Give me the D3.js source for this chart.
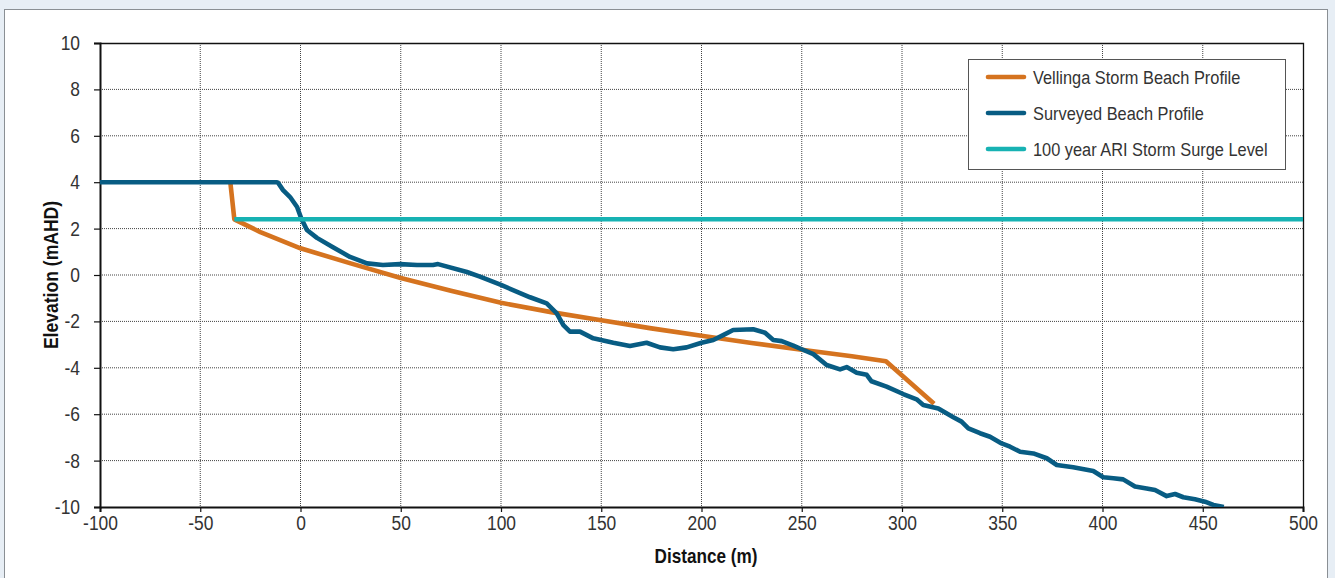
<!DOCTYPE html>
<html>
<head>
<meta charset="utf-8">
<script src="https://cdn.jsdelivr.net/npm/d3@7"></script>
<style>
  body { margin: 0; background: #e7eef5; }
  svg { display: block; }
  text { font-family: "Liberation Sans", Arial, sans-serif; }
  .tick text { font-size: 20px; fill: #333; }
  .lbl { font-weight: bold; font-size: 19.5px; fill: #111; }
  .leg { font-size: 18.5px; fill: #333; }
</style>
</head>
<body>
<svg id="chart" width="1335" height="578"></svg>
<script>
// axis ticks
var xTicks = [-100, -50, 0, 50, 100, 150, 200, 250, 300, 350, 400, 450, 500];
var yTicks = [-10, -8, -6, -4, -2, 0, 2, 4, 6, 8, 10];

// Vellinga storm beach profile [distance, elevation]
var vellinga = [
    [-35, 4.0], [-33, 2.4], [-20, 1.85], [0, 1.15], [25, 0.5], [50, -0.13],
    [75, -0.68], [100, -1.2], [125, -1.6], [150, -1.95], [175, -2.3],
    [200, -2.62], [225, -2.93], [250, -3.22], [275, -3.5], [292, -3.72],
    [316, -5.55]
];

// surveyed beach profile [distance, elevation]
var surveyed = [
    [-100, 4.0], [-12, 4.0], [-11.2, 3.98], [-8.7, 3.66], [-5.2, 3.36], [-1.7, 2.93],
    [0.3, 2.46], [3.2, 1.94], [8.2, 1.6], [16.2, 1.2], [24.7, 0.78], [33.2, 0.5],
    [41.1, 0.43], [49.6, 0.47], [58.1, 0.43], [66.1, 0.43], [68.6, 0.47],
    [83.0, 0.13], [89.5, -0.07], [100, -0.43], [114.5, -0.96], [122.8, -1.22],
    [127.8, -1.65], [131.1, -2.16], [134.4, -2.44], [139.4, -2.44], [146, -2.73],
    [156, -2.92], [164.3, -3.06], [172.6, -2.92], [179.3, -3.12], [185.9, -3.2],
    [192.6, -3.12], [200, -2.92], [205.9, -2.8], [210.8, -2.59], [215.8, -2.37],
    [225.8, -2.34], [231.7, -2.49], [235.8, -2.8], [240, -2.85], [245.8, -3.04],
    [250, -3.2], [255.8, -3.41], [262.4, -3.88], [269.1, -4.07], [272.4, -3.97],
    [277.4, -4.21], [282.4, -4.3], [284.8, -4.58], [292.3, -4.81], [300.6, -5.13],
    [307.3, -5.36], [310.6, -5.6], [318.1, -5.75], [325.6, -6.13], [329.7, -6.32],
    [333.1, -6.61], [338.9, -6.82], [343.9, -6.97], [349.7, -7.26], [353.9, -7.4],
    [358.9, -7.62], [365.5, -7.69], [372.2, -7.9], [377.2, -8.19], [385.4, -8.29],
    [395.4, -8.45], [400.4, -8.72], [405.4, -8.76], [410.3, -8.81], [416.2, -9.12],
    [422, -9.2], [426.2, -9.27], [432, -9.53], [436.2, -9.44], [440.3, -9.58],
    [446.1, -9.67], [451.1, -9.77], [455.3, -9.91], [460.5, -10.0]
];

// 100 year ARI storm surge level
var surge = [[-33, 2.4], [500, 2.4]];

var seriesNames = ["Vellinga Storm Beach Profile", "Surveyed Beach Profile", "100 year ARI Storm Surge Level"];
var seriesColors = ["#d5731f", "#085c83", "#17b2b3"];

var svg = d3.select("#chart");

// squeeze text horizontally to get a condensed look
function narrow(sel, k) {
    sel.each(function () {
        var t = d3.select(this);
        var tx = +t.attr("x") || 0;
        var prev = t.attr("transform") || "";
        t.attr("x", 0).attr("transform", prev + " translate(" + tx + ",0) scale(" + k + ",1)");
    });
}

// white panel
svg.append("rect")
    .attr("x", 4.5).attr("y", 9.5)
    .attr("width", 1323).attr("height", 600)
    .attr("fill", "#fff")
    .attr("stroke", "#8a8f94")
    .attr("stroke-width", 1);

var pLeft = 100, pRight = 1303, pTop = 43, pBottom = 507;

var x = d3.scaleLinear().domain([-100, 500]).range([pLeft, pRight]);
var y = d3.scaleLinear().domain([-10, 10]).range([pBottom, pTop]);

// grid
var grid = svg.append("g");
grid.selectAll("line.gx")
    .data(xTicks.slice(1, -1))
  .enter().append("line")
    .attr("x1", function (d) { return x(d); }).attr("x2", function (d) { return x(d); })
    .attr("y1", pTop).attr("y2", pBottom)
    .attr("stroke", "#444").attr("stroke-width", 1).attr("stroke-dasharray", "1,1");
grid.selectAll("line.gy")
    .data(yTicks.slice(1, -1))
  .enter().append("line")
    .attr("y1", function (d) { return y(d); }).attr("y2", function (d) { return y(d); })
    .attr("x1", pLeft).attr("x2", pRight)
    .attr("stroke", "#444").attr("stroke-width", 1).attr("stroke-dasharray", "1,1");

// top + right frame
svg.append("path")
    .attr("d", "M" + pLeft + "," + (pTop + 0.5) + "H" + (pRight + 0.5) + "V" + pBottom)
    .attr("fill", "none").attr("stroke", "#111").attr("stroke-width", 1.3);

// axes
var fmt = function (d) { return String(d); };
var xAxis = svg.append("g")
    .attr("transform", "translate(0," + pBottom + ")")
    .call(d3.axisBottom(x).tickValues(xTicks).tickFormat(fmt).tickSize(5).tickPadding(4));
var yAxis = svg.append("g")
    .attr("transform", "translate(" + pLeft + ",0)")
    .call(d3.axisLeft(y).tickValues(yTicks).tickFormat(fmt).tickSize(6).tickPadding(14));
[xAxis, yAxis].forEach(function (a) {
    a.attr("font-family", null).attr("font-size", null);
    a.select(".domain").attr("stroke", "#111").attr("stroke-width", 2);
    a.selectAll(".tick line").attr("stroke", "#111").attr("stroke-width", 1.2);
    narrow(a.selectAll(".tick text"), 0.87);
});

// lines
var line = d3.line()
    .x(function (d) { return x(d[0]); })
    .y(function (d) { return y(d[1]); });

svg.append("defs").append("clipPath").attr("id", "clip")
  .append("rect").attr("x", pLeft).attr("y", pTop - 3).attr("width", pRight - pLeft + 3).attr("height", pBottom - pTop + 3);

var plot = svg.append("g").attr("clip-path", "url(#clip)");
[vellinga, surveyed, surge].forEach(function (s, i) {
    plot.append("path")
        .datum(s)
        .attr("d", line)
        .attr("fill", "none")
        .attr("stroke", seriesColors[i])
        .attr("stroke-width", 4.6)
        .attr("stroke-linejoin", "round");
});

// axis titles
var xt = svg.append("text")
    .attr("class", "lbl")
    .attr("x", 706).attr("y", 563)
    .attr("text-anchor", "middle")
    .text("Distance (m)");
narrow(xt, 0.88);
svg.append("text")
    .attr("class", "lbl")
    .attr("transform", "translate(58," + y(0) + ") rotate(-90) scale(0.9,1)")
    .attr("text-anchor", "middle")
    .text("Elevation (mAHD)");

// legend
var leg = svg.append("g").attr("transform", "translate(968,59)");
leg.append("rect")
    .attr("x", 0.5).attr("y", 0.5).attr("width", 317).attr("height", 110)
    .attr("fill", "#fff").attr("stroke", "#555").attr("stroke-width", 1);
seriesNames.forEach(function (n, i) {
    var ly = 18 + i * 36;
    leg.append("line")
        .attr("x1", 20).attr("x2", 56).attr("y1", ly).attr("y2", ly)
        .attr("stroke", seriesColors[i]).attr("stroke-width", 4.6).attr("stroke-linecap", "round");
    var t = leg.append("text")
        .attr("class", "leg")
        .attr("x", 65).attr("y", ly + 7)
        .text(n);
    narrow(t, 0.885);
});
</script>
</body>
</html>
